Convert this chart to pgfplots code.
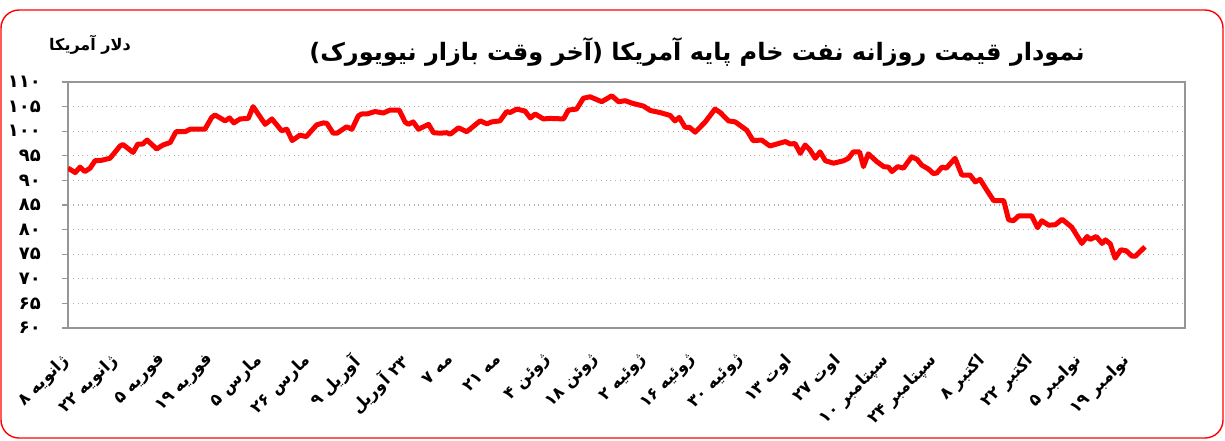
\documentclass[border=0pt]{standalone}
\usepackage{fontspec}
\usepackage{pgfplots}
\pgfplotsset{compat=1.18}
\TeXXeTstate=1
\newfontfamily\fa[Script=Arabic]{DejaVu Sans}
\definecolor{framegray}{RGB}{150,150,150}
\definecolor{gridgray}{RGB}{175,175,175}

\pgfplotstableread{
day price
0 92.5
1.5 91.6
2.5 92.7
3.5 91.8
4.6 92.5
5.6 94.0
7.0 94.1
8.7 94.5
9.3 95.2
10.8 97.0
11.4 97.3
13.5 95.7
14.5 97.4
15.5 97.4
16.4 98.2
18.4 96.4
19.7 97.2
21.2 97.7
22.4 99.9
24.3 99.9
25.3 100.4
28.4 100.4
29.8 102.8
30.5 103.3
32.6 102.1
33.5 102.7
34.4 101.7
35.7 102.5
37.4 102.6
38.4 105.0
40.9 101.4
42.3 102.5
44.3 100.1
45.4 100.4
46.5 98.1
48.1 99.2
49.4 98.9
51.6 101.3
53.0 101.7
53.7 101.6
55.0 99.6
55.8 99.6
57.8 100.9
58.9 100.4
60.2 103.1
60.9 103.5
62.0 103.5
63.7 104.0
65.4 103.7
66.8 104.3
68.7 104.3
69.9 101.9
70.6 101.4
71.6 101.9
72.7 100.4
74.8 101.4
75.8 99.7
77.2 99.6
78.6 99.7
79.3 99.4
81.0 100.7
82.7 99.9
85.5 102.1
86.9 101.5
87.9 101.9
89.6 102.1
91.0 104.0
91.7 103.8
93.1 104.5
94.8 104.1
95.9 102.7
96.9 103.5
98.6 102.5
100.0 102.6
102.8 102.5
103.8 104.3
105.5 104.5
106.9 106.7
108.3 107.0
110.7 106.0
112.8 107.2
114.2 106.0
115.6 106.2
117.0 105.7
119.4 105.1
120.8 104.2
122.8 103.8
124.9 103.2
125.9 102.1
126.8 102.8
128.0 100.8
128.9 100.8
130.1 99.8
132.2 101.9
134.2 104.5
135.3 103.8
137.0 102.1
138.4 101.9
140.8 100.2
142.1 98.1
143.9 98.2
145.6 97.0
148.8 97.9
149.8 97.4
150.8 97.5
151.9 95.5
152.9 97.2
153.9 96.2
155.0 94.5
156.0 95.8
157.1 94.0
158.8 93.5
160.9 94.0
161.9 94.5
162.9 95.8
164.2 95.8
165.0 92.8
166.0 95.4
167.8 93.8
169.2 92.8
170.2 92.7
170.9 91.8
172.1 92.8
173.3 92.5
175.0 94.8
176.1 94.3
177.1 93.1
178.5 92.3
179.5 91.4
180.2 91.5
181.3 92.7
182.2 92.5
184.0 94.5
185.4 91.1
187.1 91.1
188.2 89.7
189.2 90.2
190.6 88.0
192.0 85.9
194.1 85.9
195.1 82.0
196.1 81.8
197.2 82.8
199.9 82.8
201.1 80.4
202.0 81.8
203.4 80.9
204.8 81.0
206.2 82.1
208.2 80.5
210.3 77.2
211.4 78.6
212.0 78.0
213.3 78.6
214.5 77.2
215.2 77.9
216.2 77.1
217.2 74.2
218.4 75.9
219.5 75.7
220.7 74.6
221.4 74.6
223.4 76.5
}\oilprice

\begin{document}
\begin{tikzpicture}
\path[use as bounding box] (0pt,0pt) rectangle (612.5pt,-220pt);
\draw[red, line width=0.7pt, rounded corners=9pt] (0.5pt,-5pt) rectangle (611.5pt,-219pt);
\node[font=\fa\bfseries\fontsize{12}{14}\selectfont] at (348.5pt,-26pt)
  {\beginR نمودار قیمت روزانه نفت خام پایه آمریکا (آخر وقت بازار نیویورک)\endR};
\node[font=\fa\bfseries\fontsize{8}{10}\selectfont] at (45pt,-22.5pt) {\beginR دلار آمریکا\endR};
\begin{axis}[
  at={(34pt,-164pt)}, anchor=south west,
  scale only axis, width=558.5pt, height=123pt,
  xmin=0, xmax=231.7, ymin=60, ymax=110,
  axis line style={draw=framegray, line width=1.2pt},
  ytick={60,65,...,110},
  yticklabels={۶۰,۶۵,۷۰,۷۵,۸۰,۸۵,۹۰,۹۵,۱۰۰,۱۰۵,۱۱۰},
  ytick pos=left, tick align=outside, major tick length=3pt,
  ytick style={draw=framegray, line width=0.6pt},
  yticklabel style={font=\fa\bfseries\fontsize{9}{10}\selectfont, anchor=east, xshift=-7pt},
  ymajorgrids, grid style={dotted, draw=gridgray, line width=0.6pt},
  xtick={0,10,...,220},
  xtick style={draw=none},
  xticklabels={
    {\beginR ژانویه ۸\endR},{\beginR ژانویه ۲۲\endR},{\beginR فوریه ۵\endR},{\beginR فوریه ۱۹\endR},
    {\beginR مارس ۵\endR},{\beginR مارس ۲۶\endR},{\beginR آوریل ۹\endR},{\beginR ۲۳ آوریل\endR},
    {\beginR مه ۷\endR},{\beginR مه ۲۱\endR},{\beginR ژوئن ۴\endR},{\beginR ژوئن ۱۸\endR},
    {\beginR ژوئیه ۲\endR},{\beginR ژوئیه ۱۶\endR},{\beginR ژوئیه ۳۰\endR},{\beginR اوت ۱۳\endR},
    {\beginR اوت ۲۷\endR},{\beginR سپتامبر ۱۰\endR},{\beginR سپتامبر ۲۴\endR},{\beginR اکتبر ۸\endR},
    {\beginR اکتبر ۲۲\endR},{\beginR نوامبر ۵\endR},{\beginR نوامبر ۱۹\endR}},
  xticklabel style={font=\fa\bfseries\fontsize{8.3}{10}\selectfont, rotate=45, anchor=north east, xshift=-5.5pt, yshift=-0.4pt},
]
\addplot[red, line width=2.5pt, line join=round, mark=none] table[x=day, y=price] {\oilprice};
\end{axis}
\end{tikzpicture}
\end{document}
